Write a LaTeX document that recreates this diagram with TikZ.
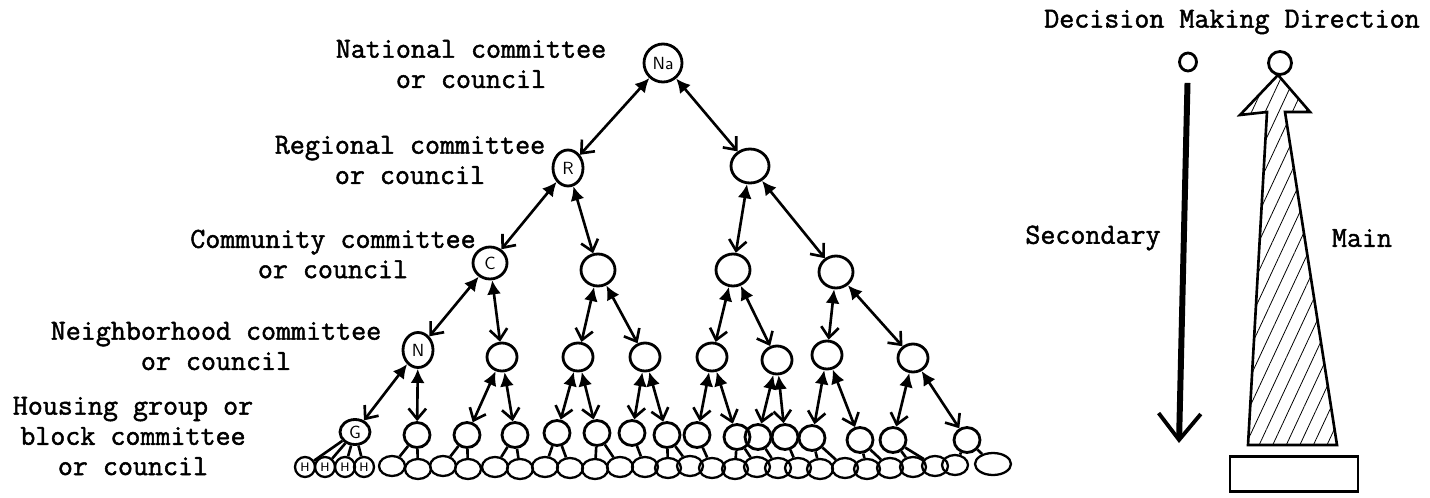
\documentclass[tikz,border=0pt]{standalone}
\usepackage{fontspec}
\newfontfamily\typer{Latin Modern Mono}[FakeBold=1.6]
\usetikzlibrary{arrows.meta,positioning,shapes.geometric,patterns.meta}

\begin{document}
\begin{tikzpicture}[x=0.02cm, y=-0.02cm,
    unit/.style={draw, ellipse, line width=1.6pt, inner sep=0pt, font=\sffamily\normalsize},
    top/.style={unit, minimum width=0.76cm, minimum height=0.76cm},
    mid/.style={unit, minimum width=0.68cm, minimum height=0.64cm},
    low/.style={unit, minimum width=0.6cm, minimum height=0.56cm},
    leaf/.style={unit, minimum width=0.52cm, minimum height=0.5cm},
    foot/.style={unit, line width=1.3pt, minimum width=0.52cm, minimum height=0.4cm},
    house/.style={foot, minimum width=0.4cm, minimum height=0.4cm, font=\sffamily\scriptsize},
    level/.style={align=center, font=\typer\fontsize{16.6}{17.2}\selectfont},
    link/.style={{Latex[length=8pt,width=8pt]}-{Straight Barb[length=6pt,width=10pt]}, line width=1.5pt},
    leg/.style={line width=1.5pt},
    down/.style={-{Straight Barb[length=15pt,width=24pt,line width=2.2pt]}, line width=3.4pt, shorten <=6pt},
    main/.style={line width=1.5pt, pattern={Lines[angle=65,distance=7pt,line width=0.45pt]}}
  ]
    \useasboundingbox (0,0) rectangle (1430,497);

    % level labels
    \node[level] (lnat) at (471,64) {National committee\\or council};
    \node[level] (lreg) at (410,160) {Regional committee\\or council};
    \node[level] (lcom) at (333,254) {Community committee\\or council};
    \node[level] (lnei) at (216,346) {Neighborhood committee\\or council};
    \node[level] (lhou) at (133,436) {Housing group or\\block committee\\or council};

    % the tree
    \node[top] (na) at (663,63) {Na};
    \node[mid, minimum width=0.6cm, minimum height=0.72cm] (r1) at (568,168) {R};
    \node[mid, minimum width=0.76cm, minimum height=0.68cm] (r2) at (750,166) {};
    \node[mid] (c1) at (490,263) {C};
    \node[mid] (c2) at (598,270) {};
    \node[mid] (c3) at (733,270) {};
    \node[mid] (c4) at (836,272) {};
    \node[low, minimum height=0.7cm] (n1) at (418,350) {N};
    \node[low] (n2) at (502,357) {};
    \node[low] (n3) at (578,357) {};
    \node[low] (n4) at (645,357) {};
    \node[low] (n5) at (712,357) {};
    \node[low] (n6) at (777,360) {};
    \node[low] (n7) at (827,355) {};
    \node[low] (n8) at (913,358) {};

    \node[leaf, minimum width=0.6cm] (g1) at (355,432) {G};
    \foreach \i/\x/\y in {2/417/435, 3/467/435, 4/515/435, 5/557/433, 6/597/433,
        7/632/433, 8/667/435, 9/697/435, 10/737/437, 11/758/437, 12/785/437,
        13/812/438, 14/860/440, 15/893/440, 16/967/440}
      \node[leaf] (g\i) at (\x,\y) {};

    \foreach \i/\x in {1/305, 2/325, 3/345, 4/364}
      \node[house] (h\i) at (\x,467) {H};
    \foreach \i/\x/\y in {1/392/466, 2/418/469, 3/443/466, 4/468/469, 5/495/467,
        6/520/469, 7/545/467, 8/570/468, 9/595/469, 10/620/467, 11/645/467,
        12/668/468, 13/690/466, 14/712/468, 15/735/469, 16/757/467, 17/778/468,
        18/798/468, 19/820/469, 20/845/468, 21/867/469, 22/890/468, 23/913/467,
        24/935/466, 25/955/465}
      \node[foot] (f\i) at (\x,\y) {};
    \node[foot, minimum width=0.72cm, minimum height=0.44cm] (f26) at (993,464) {};

    \foreach \p/\c in {na/r1, na/r2, r1/c1, r1/c2, r2/c3, r2/c4,
        c1/n1, c1/n2, c2/n3, c2/n4, c3/n5, c3/n6, c4/n7, c4/n8,
        n1/g1, n1/g2, n2/g3, n2/g4, n3/g5, n3/g6, n4/g7, n4/g8,
        n5/g9, n5/g10, n6/g11, n6/g12, n7/g13, n7/g14, n8/g15, n8/g16}
      \draw[link] (\p) -- (\c);

    \foreach \p/\c in {g1/h1, g1/h2, g1/h3, g1/h4, g2/f1, g2/f2, g3/f3, g3/f4,
        g4/f5, g4/f6, g5/f7, g5/f8, g6/f9, g6/f10, g7/f11, g8/f12, g8/f13,
        g9/f14, g10/f15, g10/f16, g11/f17, g12/f18, g13/f19, g13/f20,
        g14/f21, g14/f22, g15/f23, g15/f24, g16/f25, g16/f26}
      \draw[leg] (\p) -- (\c);

    % decision making direction
    \node[level] (title) at (1232,22) {Decision Making Direction};
    \node[level] (sec) at (1093,238) {Secondary};
    \node[level] (mainl) at (1362,238) {Main};

    \node[unit, minimum width=0.34cm, minimum height=0.36cm] (stop) at (1188,62) {};
    \coordinate (send) at (1179,443);
    \draw[down] (stop) -- (send);

    \node[unit, minimum width=0.46cm, minimum height=0.46cm] (mtop) at (1280,63) {};
    \draw[main] (1278,75) -- (1310,112) -- (1285,112) -- (1337,445) -- (1248,445)
      -- (1267,112) -- (1240,115) -- cycle;
    \node[draw, line width=1.5pt, minimum width=2.56cm, minimum height=0.7cm,
      inner sep=0pt] (base) at (1294,474) {};
  \end{tikzpicture}
\end{document}
